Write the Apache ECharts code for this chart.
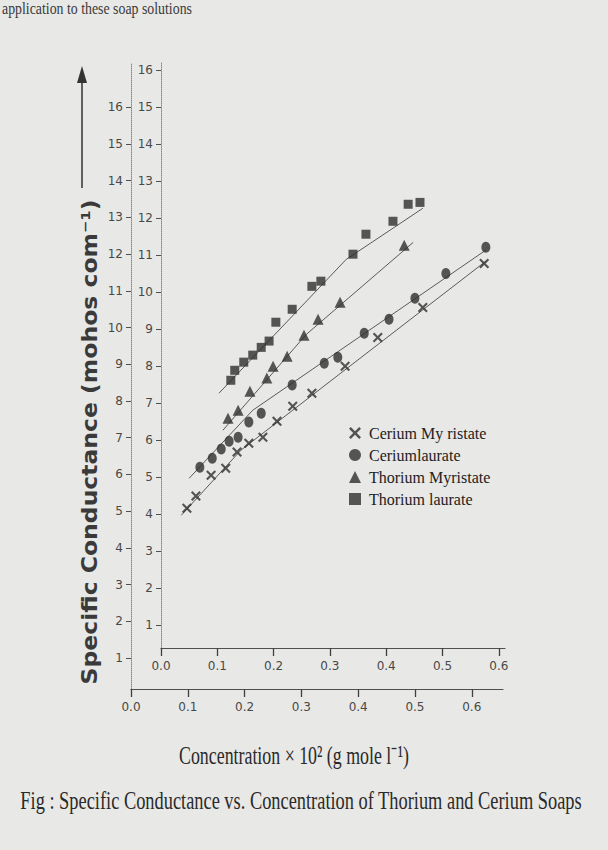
<!DOCTYPE html>
<html>
<head>
<meta charset="utf-8">
<script src="https://cdn.jsdelivr.net/npm/echarts@6/dist/echarts.min.js"></script>
<style>
html,body{margin:0;padding:0;background:#e8e8e6;}
#chart{width:608px;height:850px;}
</style>
</head>
<body>
<div id="chart"></div>
<script>
// ---- tick labels ----
const xTicks = [0, 0.1, 0.2, 0.3, 0.4, 0.5, 0.6];
const yTicks = [1, 2, 3, 4, 5, 6, 7, 8, 9, 10, 11, 12, 13, 14, 15, 16];

// ---- series names ----
const seriesNames = ['Cerium My ristate', 'Ceriumlaurate', 'Thorium Myristate', 'Thorium laurate'];

// ---- measured points (concentration x 10^2, specific conductance) ----
const ceMyrX = [0.046, 0.062, 0.089, 0.115, 0.135, 0.156, 0.181, 0.206, 0.234, 0.268, 0.327, 0.385, 0.465, 0.574];
const ceMyrY = [4.16, 4.49, 5.05, 5.24, 5.68, 5.92, 6.08, 6.51, 6.92, 7.27, 8.00, 8.78, 9.59, 10.78];

const ceLauX = [0.069, 0.091, 0.107, 0.121, 0.137, 0.156, 0.178, 0.233, 0.290, 0.314, 0.361, 0.405, 0.451, 0.506, 0.577];
const ceLauY = [5.27, 5.51, 5.76, 5.97, 6.08, 6.49, 6.73, 7.49, 8.08, 8.24, 8.89, 9.27, 9.84, 10.51, 11.22];

const thMyrX = [0.119, 0.137, 0.158, 0.188, 0.199, 0.224, 0.254, 0.279, 0.318, 0.432];
const thMyrY = [6.59, 6.81, 7.32, 7.68, 8.00, 8.27, 8.84, 9.27, 9.73, 11.27];

const thLauX = [0.124, 0.131, 0.147, 0.163, 0.178, 0.192, 0.204, 0.233, 0.268, 0.284, 0.341, 0.364, 0.412, 0.439, 0.460];
const thLauY = [7.62, 7.89, 8.11, 8.30, 8.51, 8.68, 9.19, 9.54, 10.16, 10.30, 11.03, 11.57, 11.92, 12.38, 12.43];

// ---- drawn straight-line segments ----
const ceMyrLineX = [0.036, 0.142, 0.577];
const ceMyrLineY = [3.97, 5.73, 10.84];
const ceLauLineX = [0.050, 0.163, 0.577];
const ceLauLineY = [4.97, 6.81, 11.14];
const thMyrLineX = [0.110, 0.258, 0.448];
const thMyrLineY = [6.27, 8.86, 11.35];
const thLauLineX = [0.103, 0.329, 0.465];
const thLauLineY = [7.27, 10.89, 12.27];

// ---- texts ----
const yTitle = 'Specific Conductance (mohos com\u207B\u00B9)';
const xTitle = 'Concentration \u00D7 10\u00B2 (g mole l\u207B\u00B9)';
const caption = 'Fig : Specific Conductance vs. Concentration of Thorium and Cerium Soaps';
const pageText = 'application to these soap solutions';

const pts = (xs, ys) => xs.map((x, i) => [x, ys[i]]);

const measureCtx = document.createElement('canvas').getContext('2d');
function fitScale(text, font, target) {
  measureCtx.font = font;
  return target / measureCtx.measureText(text).width;
}

const ink = '#2e2e2e';
const crossPath = 'path://M0,1.5 L1.5,0 L5,3.5 L8.5,0 L10,1.5 L6.5,5 L10,8.5 L8.5,10 L5,6.5 L1.5,10 L0,8.5 L3.5,5 Z';
const serif = '"Liberation Serif", "Times New Roman", serif';
const sans = '"DejaVu Sans", sans-serif';

function xAxisCfg(gridIndex, max) {
  return {
    gridIndex: gridIndex, type: 'value', min: 0, max: max,
    axisLine: { show: true, onZero: false, lineStyle: { color: '#505050', width: 1.2 } },
    axisTick: { show: true, length: 8, customValues: xTicks, lineStyle: { color: '#404040', width: 1.3 } },
    axisLabel: { customValues: xTicks, formatter: v => v.toFixed(1), margin: 12,
                 fontFamily: sans, fontSize: 12, color: '#484848' },
    splitLine: { show: false }
  };
}
function yAxisCfg(gridIndex, min, max) {
  return {
    gridIndex: gridIndex, type: 'value', min: min, max: max,
    axisLine: { show: true, onZero: false, lineStyle: { color: '#8a8a8a', width: 1, type: 'dotted' } },
    axisTick: { show: true, length: 5, customValues: yTicks, lineStyle: { color: '#505050' } },
    axisLabel: { customValues: yTicks, margin: 8, fontFamily: sans, fontSize: 12, color: '#484848' },
    splitLine: { show: false }
  };
}

function scatter(name, xs, ys, symbol, size) {
  return {
    name: name, type: 'scatter', xAxisIndex: 0, yAxisIndex: 0,
    data: pts(xs, ys), symbol: symbol, symbolSize: size,
    itemStyle: { color: ink }, z: 3
  };
}
function fitLine(name, xs, ys) {
  return {
    name: name, type: 'line', xAxisIndex: 0, yAxisIndex: 0,
    data: pts(xs, ys), symbol: 'none', silent: true,
    lineStyle: { color: '#5a5a5a', width: 1 }, z: 2
  };
}

const sYT = fitScale(yTitle, 'bold 22px ' + sans, 485);
const sXT = fitScale(xTitle, '26px ' + serif, 230);
const sCap = fitScale(caption, '26px ' + serif, 562);
const sPage = fitScale(pageText, '16px ' + serif, 190);

const chart = echarts.init(document.getElementById('chart'), null, { renderer: 'svg' });
chart.setOption({
  backgroundColor: '#e8e8e6',
  animation: false,
  grid: [
    { left: 161, top: 63, width: 344, height: 585 },
    { left: 131, top: 63, width: 372, height: 626 }
  ],
  xAxis: [ xAxisCfg(0, 0.611), xAxisCfg(1, 0.655) ],
  yAxis: [ yAxisCfg(0, 0.38, 16.2), yAxisCfg(1, 0.16, 17.2) ],
  legend: {
    data: seriesNames, orient: 'vertical', left: 344, top: 420,
    itemWidth: 12, itemHeight: 12, itemGap: 6,
    textStyle: { fontFamily: serif, fontSize: 16, lineHeight: 16, color: '#222', padding: [0, 0, 0, 3] }
  },
  series: [
    fitLine('Cerium My ristate line', ceMyrLineX, ceMyrLineY),
    fitLine('Ceriumlaurate line', ceLauLineX, ceLauLineY),
    fitLine('Thorium Myristate line', thMyrLineX, thMyrLineY),
    fitLine('Thorium laurate line', thLauLineX, thLauLineY),
    scatter(seriesNames[0], ceMyrX, ceMyrY, crossPath, 10),
    scatter(seriesNames[1], ceLauX, ceLauY, 'circle', [9, 11]),
    scatter(seriesNames[2], thMyrX, thMyrY, 'triangle', 11),
    scatter(seriesNames[3], thLauX, thLauY, 'rect', 9)
  ],
  graphic: [
    { type: 'text', x: 2, y: 1, scaleX: sPage,
      style: { text: pageText, fontSize: 16, fontFamily: serif, fill: '#3a3a3a', align: 'left', verticalAlign: 'top' } },
    { type: 'text', x: 89, y: 442, rotation: Math.PI / 2, scaleX: sYT,
      style: { text: yTitle, fontSize: 22, fontWeight: 'bold', fontFamily: sans, fill: '#3a3a3a', align: 'center', verticalAlign: 'middle' } },
    { type: 'line', shape: { x1: 82, y1: 188, x2: 82, y2: 78 }, style: { stroke: '#333', lineWidth: 1.5 } },
    { type: 'polygon', shape: { points: [[77, 83], [82, 66], [87, 83]] }, style: { fill: '#333' } },
    { type: 'text', x: 294, y: 755, scaleX: sXT,
      style: { text: xTitle, fontSize: 26, fontFamily: serif, fill: '#2a2a2a', align: 'center', verticalAlign: 'middle' } },
    { type: 'text', x: 301, y: 800, scaleX: sCap,
      style: { text: caption, fontSize: 26, fontFamily: serif, fill: '#2a2a2a', align: 'center', verticalAlign: 'middle' } }
  ]
});
</script>
</body>
</html>
